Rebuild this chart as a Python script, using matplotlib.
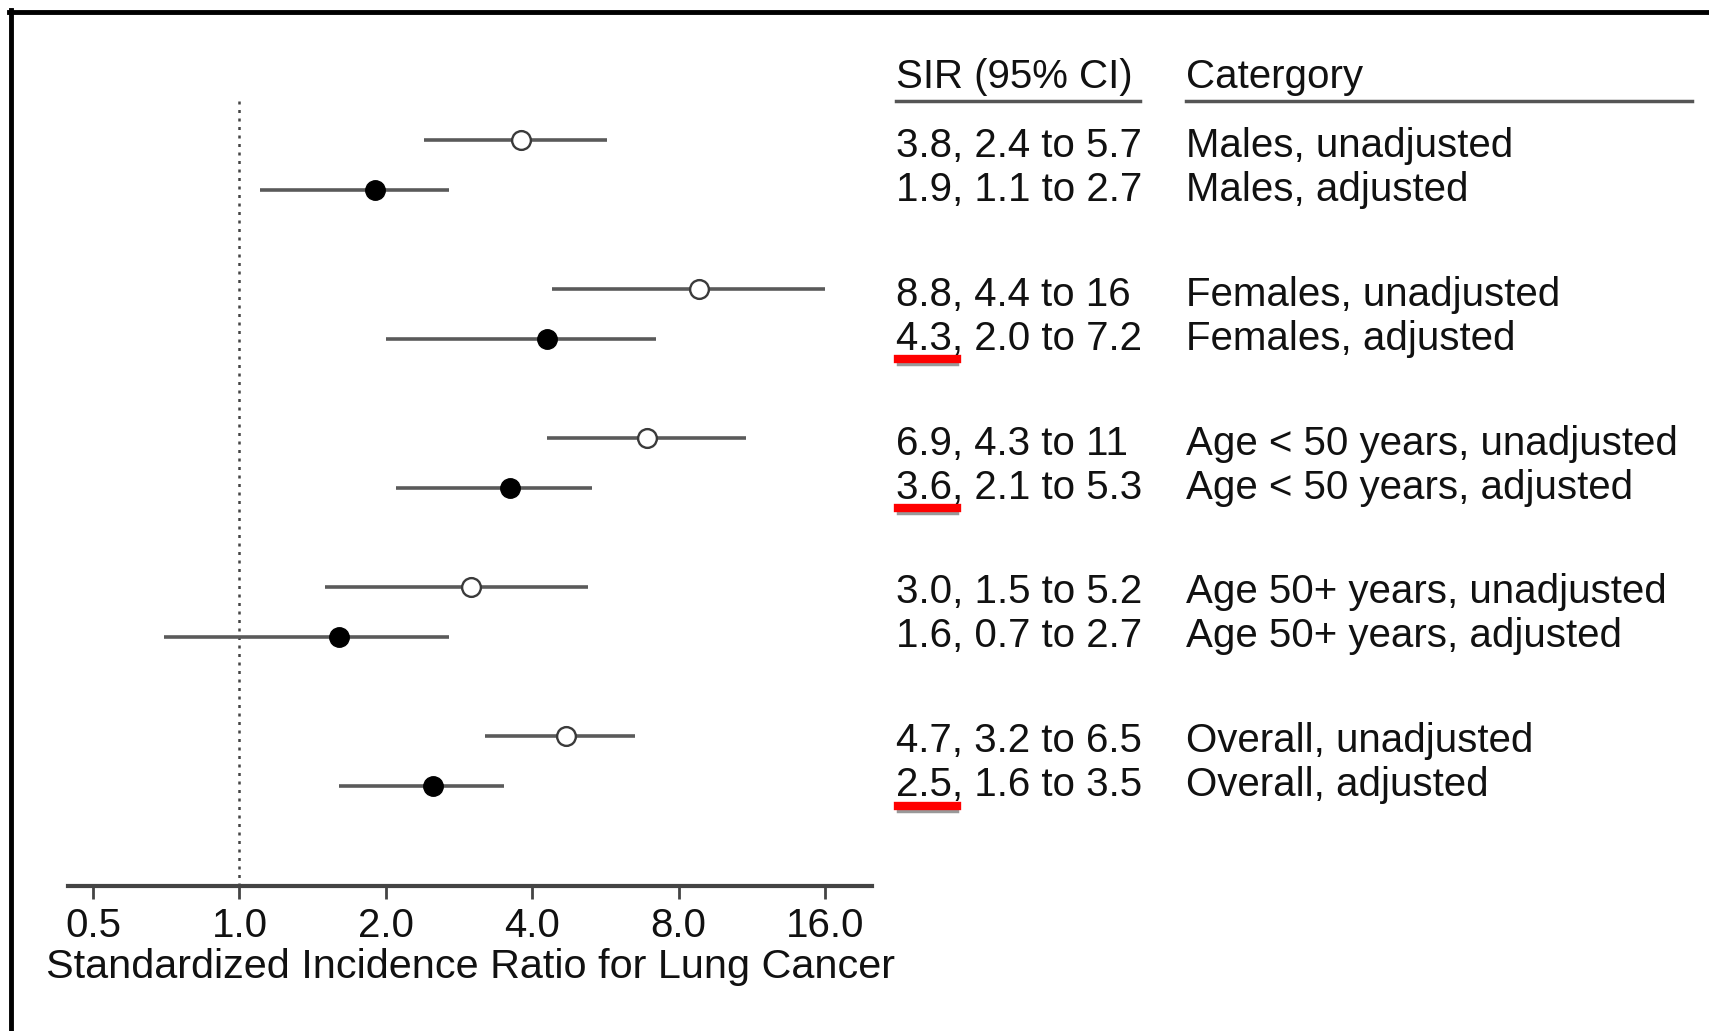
import numpy as np
import matplotlib
matplotlib.use("Agg")
import matplotlib.pyplot as plt
from matplotlib.lines import Line2D
from matplotlib.transforms import blended_transform_factory

plt.rcParams['font.family'] = ['Liberation Sans', 'DejaVu Sans']

# SIR estimates with 95% confidence limits (unadjusted / adjusted pairs)
categories = [
    "Males, unadjusted", "Males, adjusted",
    "Females, unadjusted", "Females, adjusted",
    "Age < 50 years, unadjusted", "Age < 50 years, adjusted",
    "Age 50+ years, unadjusted", "Age 50+ years, adjusted",
    "Overall, unadjusted", "Overall, adjusted",
]
sir = [3.8, 1.9, 8.8, 4.3, 6.9, 3.6, 3.0, 1.6, 4.7, 2.5]
ci_low = [2.4, 1.1, 4.4, 2.0, 4.3, 2.1, 1.5, 0.7, 3.2, 1.6]
ci_high = [5.7, 2.7, 16, 7.2, 11, 5.3, 5.2, 2.7, 6.5, 3.5]
ci_labels = ["5.7", "2.7", "16", "7.2", "11", "5.3", "5.2", "2.7", "6.5", "3.5"]
adjusted = [False, True, False, True, False, True, False, True, False, True]
highlighted = [3, 5, 9]

xticks = [0.5, 1.0, 2.0, 4.0, 8.0, 16.0]
xtick_labels = ["0.5", "1.0", "2.0", "4.0", "8.0", "16.0"]

W, H = 1709, 1031
fig = plt.figure(figsize=(W / 100, H / 100), dpi=100)
fig.patch.set_facecolor("white")

ax = fig.add_axes([68 / W, 1 - 886 / H, (872 - 68) / W, (886 - 100) / H])

# vertical layout: groups of two rows
group_gap = 2.98
centers = np.array([(i // 2) * group_gap for i in range(len(sir))])
sign = np.array([0.5 if a else -0.5 for a in adjusted])
ypos = centers + sign

line_col = "#5a5a5a"
for i in range(len(sir)):
    ax.plot([ci_low[i], ci_high[i]], [ypos[i], ypos[i]], color=line_col, lw=2.6,
            solid_capstyle="butt", zorder=2)
    if adjusted[i]:
        ax.plot(sir[i], ypos[i], "o", ms=14, mfc="black", mec="black", zorder=3)
    else:
        ax.plot(sir[i], ypos[i], "o", ms=13.5, mfc="white", mec="#3a3a3a",
                mew=1.7, zorder=3)

ax.set_xscale("log", base=2)
ax.set_xlim(0.444, 20.0)
ax.set_ylim(14.43, -1.31)
ax.axvline(1.0, color="#444444", lw=1.8, ls=(0, (1.2, 2.2)), zorder=1)

ax.set_xticks(xticks)
ax.set_xticklabels(xtick_labels)
ax.minorticks_off()
ax.tick_params(axis="x", direction="out", length=9, width=2, color="#444444",
               labelsize=29, pad=6, labelcolor="#111111")
ax.set_yticks([])
for s in ["top", "right", "left"]:
    ax.spines[s].set_visible(False)
ax.spines["bottom"].set_color("#444444")
ax.spines["bottom"].set_linewidth(3)
ax.set_xlabel("Standardized Incidence Ratio for Lung Cancer", fontsize=29.8,
              color="#111111", labelpad=2)

# text columns to the right of the plot
tr = blended_transform_factory(fig.transFigure, ax.transData)
x_sir = 896 / W
x_cat = 1186 / W
fs = 29
txt_col = "#111111"
text_y = centers + sign * 0.88 + 0.05
for i in range(len(sir)):
    label = f"{sir[i]:.1f}, {ci_low[i]:.1f} to {ci_labels[i]}"
    ax.text(x_sir, text_y[i], label, transform=tr, fontsize=fs, color=txt_col,
            ha="left", va="center", clip_on=False)
    ax.text(x_cat, text_y[i], categories[i], transform=tr, fontsize=fs,
            color=txt_col, ha="left", va="center", clip_on=False)

# red underline marks below the point estimate of the highlighted rows
for i in highlighted:
    uy = text_y[i] + 0.41
    ax.add_artist(Line2D([898 / W, 957 / W], [uy + 0.1, uy + 0.1],
                         color="#999999", lw=2.5, transform=tr, clip_on=False))
    ax.add_artist(Line2D([898 / W, 957 / W], [uy, uy], color="#ff0000",
                         lw=6, transform=tr, clip_on=False))

# column headers
hy = -1.78
ax.text(x_sir, hy, "SIR (95% CI)", transform=tr, fontsize=fs, color=txt_col,
        ha="left", va="center", clip_on=False)
ax.text(x_cat, hy, "Catergory", transform=tr, fontsize=fs, color=txt_col,
        ha="left", va="center", clip_on=False)
fig.add_artist(Line2D([896 / W, 1140 / W], [1 - 101 / H, 1 - 101 / H],
                      color="#555555", lw=2.5, transform=fig.transFigure))
fig.add_artist(Line2D([1186 / W, 1692 / W], [1 - 101 / H, 1 - 101 / H],
                      color="#555555", lw=2.5, transform=fig.transFigure))

# outer frame (top and left edges)
fig.add_artist(Line2D([9 / W, 1.0], [1 - 12 / H, 1 - 12 / H], color="black",
                      lw=3.5, transform=fig.transFigure))
fig.add_artist(Line2D([11 / W, 11 / W], [0.0, 1 - 10 / H], color="black",
                      lw=3.5, transform=fig.transFigure))

fig.savefig("out.png", dpi=100, facecolor="white")
